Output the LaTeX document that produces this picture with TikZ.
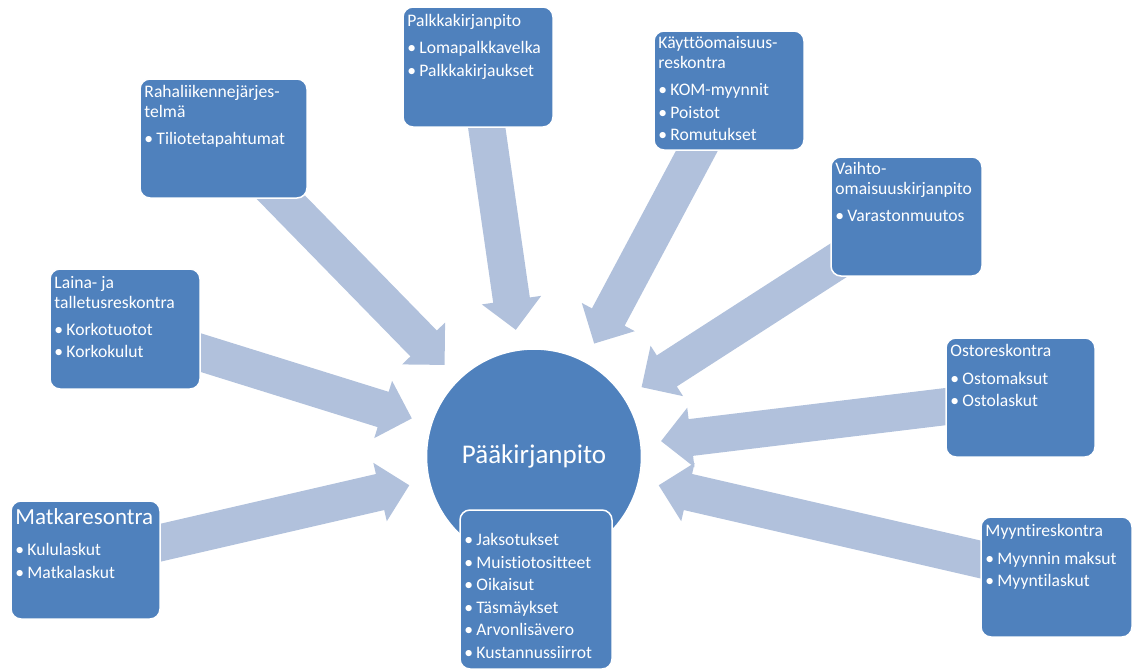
\documentclass[tikz,border=0pt]{standalone}
\usepackage{fontspec}
\setmainfont{Carlito}[Ligatures={NoCommon}]
\usetikzlibrary{calc}
\pgfdeclarelayer{bg}
\pgfsetlayers{bg,main}
\definecolor{boxblue}{HTML}{4F81BD}
\definecolor{arrowfill}{HTML}{B1C1DC}
\newcommand\itm{\makebox[12pt][l]{\textbullet}}
\newcommand\barrow[1]{%
  \coordinate (#1-t) at ($(pk.center)!128pt!(#1.center)$);
  \coordinate (#1-b) at ($(#1-t)!30pt!(#1.center)$);
  \fill[arrowshape] ($(#1.center)!18.5pt!90:(#1-t)$) -- ($(#1-b)!18.5pt!90:(#1-t)$)
    -- ($(#1-b)!30pt!90:(#1-t)$) -- (#1-t) -- ($(#1-b)!30pt!-90:(#1-t)$)
    -- ($(#1-b)!18.5pt!-90:(#1-t)$) -- ($(#1.center)!18.5pt!-90:(#1-t)$) -- cycle;
}
\tikzset{
  bx/.style={rectangle, rounded corners=10pt, fill=boxblue, draw=white, line width=1.5pt, inner sep=0pt},
  txt/.style={anchor=north west, inner sep=0pt, align=left, text=white, font=\fontsize{17.6}{20}\selectfont},
  arrowshape/.style={fill=arrowfill},
}
\begin{document}
\begin{tikzpicture}[x=1pt,y=-1pt]
\useasboundingbox (0,0) rectangle (1136,670);
% central circle
\node[circle, fill=boxblue, draw=white, line width=1.5pt, minimum size=215pt, inner sep=0pt] (pk) at (534,456.5) {};
\node[anchor=base, inner sep=0pt, text=white, font=\fontsize{27}{30}\selectfont] (pktxt) at (534,463) {Pääkirjanpito};
% boxes
\node[bx, minimum width=167pt, minimum height=119pt] (raha) at (223.5,138.5) {};
\node[bx, minimum width=150pt, minimum height=120pt] (palkka) at (478,67) {};
\node[bx, minimum width=150pt, minimum height=120pt] (laina) at (125,329) {};
\node[bx, minimum width=150pt, minimum height=119pt] (kaytto) at (729,90.5) {};
\node[bx, minimum width=151pt, minimum height=119pt] (vaihto) at (906.5,216.5) {};
\node[bx, minimum width=149pt, minimum height=119pt] (osto) at (1020.5,397.5) {};
\node[bx, minimum width=151pt, minimum height=120pt] (myynti) at (1056.5,577) {};
\node[bx, minimum width=149pt, minimum height=118pt] (matka) at (85.5,560) {};
\node[bx, minimum width=152pt, minimum height=159pt] (jakso) at (536,589.5) {};
% texts
\node[txt] (rahat) at ($(raha.north west)+(5,3.2)$) {\rule{0pt}{16pt}Rahaliikennejärjes-\\telmä\\[7pt]\itm Tiliotetapahtumat};
\node[txt] (palkkat) at ($(palkka.north west)+(5,4.2)$) {\rule{0pt}{16pt}Palkkakirjanpito\\[7pt]\itm Lomapalkkavelka\\[2.4pt]\itm Palkkakirjaukset};
\node[txt] (lainat) at ($(laina.north west)+(5,3.8)$) {\rule{0pt}{16pt}Laina- ja\\talletusreskontra\\[7pt]\itm Korkotuotot\\[2.4pt]\itm Korkokulut};
\node[txt] (kayttot) at ($(kaytto.north west)+(5,2.2)$) {\rule{0pt}{16pt}Käyttöomaisuus-\\reskontra\\[6.5pt]\itm KOM-myynnit\\[3pt]\itm Poistot\\[2.4pt]\itm Romutukset};
\node[txt] (vaihtot) at ($(vaihto.north west)+(5,2.5)$) {\rule{0pt}{16pt}Vaihto-\\omaisuuskirjanpito\\[7pt]\itm Varastonmuutos};
\node[txt] (ostot) at ($(osto.north west)+(5,3.2)$) {\rule{0pt}{16pt}Ostoreskontra\\[7.6pt]\itm Ostomaksut\\[2.4pt]\itm Ostolaskut};
\node[txt] (myyntit) at ($(myynti.north west)+(5,4)$) {\rule{0pt}{16pt}Myyntireskontra\\[8.3pt]\itm Myynnin maksut\\[2pt]\itm Myyntilaskut};
\node[txt, font=\fontsize{23}{26}\selectfont] (matkat) at ($(matka.north west)+(5,5.3)$) {\rule{0pt}{19pt}Matkaresontra};
\node[txt] (matkab) at ($(matka.north west)+(5,38.8)$) {\rule{0pt}{16pt}\itm Kululaskut\\[3pt]\itm Matkalaskut};
\node[txt] (jaksot) at ($(jakso.north west)+(5,20.2)$) {\rule{0pt}{16pt}\itm Jaksotukset\\[2.5pt]\itm Muistiotositteet\\[2.5pt]\itm Oikaisut\\[2.5pt]\itm Täsmäykset\\[2.5pt]\itm Arvonlisävero\\[2.5pt]\itm Kustannussiirrot};
% arrows behind
\begin{pgfonlayer}{bg}
\barrow{raha}
\barrow{palkka}
\barrow{laina}
\barrow{kaytto}
\barrow{vaihto}
\barrow{osto}
\barrow{myynti}
\barrow{matka}
\end{pgfonlayer}
\end{tikzpicture}
\end{document}
